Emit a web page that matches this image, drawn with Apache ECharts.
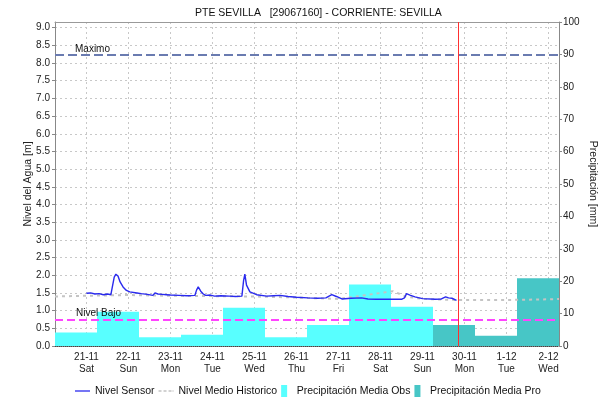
<!DOCTYPE html>
<html>
<head>
<meta charset="utf-8">
<script src="https://cdn.jsdelivr.net/npm/echarts@6/dist/echarts.min.js"></script>
<style>html,body{margin:0;padding:0;background:#fff}#c{width:616px;height:404px}</style>
</head>
<body>
<div id="c"></div>
<script>
// Day labels (x axis) – day index 0 = 21-11 00:00
var dayLabels = ['21-11','22-11','23-11','24-11','25-11','26-11','27-11','28-11','29-11','30-11','1-12','2-12'];
var weekDays  = ['Sat','Sun','Mon','Tue','Wed','Thu','Fri','Sat','Sun','Mon','Tue','Wed'];

// Precipitation per day (mm) – observed then forecast
var precipObs = [4.2, 10.6, 2.7, 3.5, 11.8, 2.7, 6.5, 19.0, 12.1, null, null, null];
var precipPro = [null, null, null, null, null, null, null, null, null, 6.5, 3.2, 20.9];

// Sensor level: time (days from 21-11 00:00) and level (m)
var sensorT = [0.00,0.10,0.20,0.30,0.40,0.50,0.58,0.62,0.66,0.70,0.75,0.80,0.87,0.95,1.03,1.20,1.30,1.45,1.58,1.63,1.70,1.80,1.90,2.00,2.20,2.40,2.58,2.62,2.66,2.72,2.78,2.84,2.95,3.05,3.20,3.40,3.55,3.70,3.74,3.77,3.81,3.89,4.05,4.29,4.45,4.61,4.80,5.00,5.27,5.50,5.70,5.84,5.95,6.08,6.30,6.55,6.70,6.90,7.10,7.30,7.50,7.57,7.62,7.70,7.82,8.00,8.30,8.45,8.55,8.62,8.70,8.81];
var sensorV = [1.49,1.50,1.47,1.48,1.45,1.47,1.45,1.50,1.95,2.03,1.98,1.81,1.67,1.57,1.53,1.50,1.48,1.46,1.43,1.50,1.47,1.46,1.45,1.44,1.43,1.42,1.43,1.58,1.67,1.55,1.47,1.43,1.44,1.41,1.42,1.41,1.40,1.41,1.85,2.03,1.72,1.53,1.45,1.41,1.42,1.43,1.40,1.38,1.36,1.35,1.36,1.45,1.40,1.33,1.35,1.36,1.33,1.32,1.32,1.32,1.32,1.36,1.48,1.44,1.39,1.34,1.32,1.33,1.39,1.36,1.35,1.29];

// Historic median level
var histT = [-0.75,0.00,1.00,2.00,3.00,4.00,5.00,6.00,6.25,7.30,7.60,8.00,8.85,10.00,11.00,11.25];
var histV = [1.40,1.42,1.44,1.42,1.41,1.40,1.37,1.33,1.37,1.55,1.40,1.33,1.30,1.30,1.32,1.33];

// Reference levels and the "now" marker
var nivelMaximo = 8.22;
var nivelBajo = 0.75;
var nowDay = 8.85;

// Axis titles
var leftAxisTitle = 'Nivel del Agua [m]';
var rightAxisTitle = 'Precipitación [mm]';

var dayIdx = dayLabels.map(function(_, i){ return i; });
var sensorData = sensorT.map(function(t, i){ return [t, sensorV[i]]; });
var histData = histT.map(function(t, i){ return [t, histV[i]]; });

var FONT = 'Liberation Sans';
var chart = echarts.init(document.getElementById('c'), null, {renderer:'canvas'});
chart.setOption({
  animation: false,
  textStyle: {fontFamily: FONT},
  title: {
    text: 'PTE SEVILLA   [29067160] - CORRIENTE: SEVILLA',
    left: 190, top: 3,
    textStyle: {fontFamily: FONT, fontSize: 10.5, fontWeight: 'normal', color: '#111'}
  },
  graphic: [
    {type: 'text', x: 28, y: 184, rotation: Math.PI / 2,
     style: {text: leftAxisTitle, font: '10.5px "Liberation Sans"', fill: '#222', align: 'center', verticalAlign: 'middle'}},
    {type: 'text', x: 593, y: 184, rotation: -Math.PI / 2,
     style: {text: rightAxisTitle, font: '10.5px "Liberation Sans"', fill: '#222', align: 'center', verticalAlign: 'middle'}}
  ],
  grid: {left: 55, right: 57, top: 22, bottom: 58, show: false},
  legend: {
    left: 70, top: 380, itemWidth: 15, itemHeight: 12, itemGap: 4,
    textStyle: {fontFamily: FONT, fontSize: 10.5, color: '#111'},
    data: [
      {name: 'Nivel Sensor', icon: 'path://M0,0H15V1.3H0Z', itemStyle: {color: '#2a2aee'}},
      {name: 'Nivel Medio Historico', icon: 'path://M0,0H3V1.5H0Z M5,0H8V1.5H5Z M10,0H13V1.5H10Z M14,0H15V1.5H14Z', itemStyle: {color: '#c4c4c4'}},
      {name: 'Precipitación Media Obs', icon: 'path://M0,0H6V12H0Z'},
      {name: 'Precipitación Media Pro', icon: 'path://M0,0H6V12H0Z'}
    ]
  },
  xAxis: [{
    type: 'value', min: -0.75, max: 11.25,
    axisLine: {show: true, onZero: false, lineStyle: {color: '#444', type: 'dotted', width: 1}},
    axisTick: {show: false, customValues: dayIdx},
    axisLabel: {
      customValues: dayIdx, margin: 5, fontSize: 10, color: '#222', lineHeight: 12,
      formatter: function(v){ var i = Math.round(v); return dayLabels[i] + '\n' + weekDays[i]; }
    },
    splitLine: {show: true, lineStyle: {color: '#c8c8c8', type: [2, 3], width: 1}}
  }, {
    type: 'category', position: 'top', data: dayLabels,
    axisLine: {show: true, onZero: false, lineStyle: {color: '#999'}},
    axisTick: {show: false}, axisLabel: {show: false}, splitLine: {show: false}
  }],
  yAxis: [{
    type: 'value', min: 0, max: 9.16, interval: 0.5,
    axisLine: {show: true, onZero: false, lineStyle: {color: '#888'}},
    axisTick: {show: true, length: 3, lineStyle: {color: '#888'}},
    axisLabel: {fontSize: 10, color: '#222', margin: 5, showMaxLabel: false,
      formatter: function(v){ return v.toFixed(1); }},
    splitLine: {show: true, lineStyle: {color: '#c8c8c8', type: [2, 3], width: 1}}
  }, {
    type: 'value', min: 0, max: 100, interval: 10, position: 'right',
    axisLine: {show: true, onZero: false, lineStyle: {color: '#888'}},
    axisTick: {show: true, length: 3, lineStyle: {color: '#888'}},
    axisLabel: {fontSize: 10, color: '#222', margin: 4},
    splitLine: {show: false}
  }],
  series: [
    {
      name: 'Precipitación Media Obs', type: 'bar', xAxisIndex: 1, yAxisIndex: 1,
      data: precipObs, barCategoryGap: '0%', barGap: '-100%',
      itemStyle: {color: '#58ffff'}, z: 1
    },
    {
      name: 'Precipitación Media Pro', type: 'bar', xAxisIndex: 1, yAxisIndex: 1,
      data: precipPro, barCategoryGap: '0%', barGap: '-100%',
      itemStyle: {color: '#47c6c6'}, z: 1
    },
    {
      name: 'Nivel Medio Historico', type: 'line', xAxisIndex: 0, yAxisIndex: 0,
      data: histData, showSymbol: false, symbol: 'none',
      lineStyle: {color: '#c4c4c4', width: 2, type: [3, 4]}, itemStyle: {color: '#c4c4c4'}, z: 3
    },
    {
      name: 'Nivel Sensor', type: 'line', xAxisIndex: 0, yAxisIndex: 0,
      data: sensorData, showSymbol: false, symbol: 'none',
      lineStyle: {color: '#2a2aee', width: 1.4}, itemStyle: {color: '#2a2aee'}, z: 4,
      markLine: {
        silent: true, symbol: 'none', animation: false,
        data: [
          {yAxis: nivelMaximo, lineStyle: {color: '#6a7bb0', width: 2, type: [9, 4]},
           label: {show: true, formatter: 'Maximo', position: 'insideStartTop', distance: [20, 1], color: '#111', fontSize: 10, fontFamily: FONT}},
          {yAxis: nivelBajo, lineStyle: {color: '#ff44ff', width: 2, type: [8, 4]},
           label: {show: true, formatter: 'Nivel Bajo', position: 'insideStartTop', distance: [21, 1], color: '#111', fontSize: 10, fontFamily: FONT}},
          {xAxis: nowDay, lineStyle: {color: '#ff3030', width: 1, type: 'solid'}, label: {show: false}}
        ]
      }
    }
  ]
});
</script>
</body>
</html>
